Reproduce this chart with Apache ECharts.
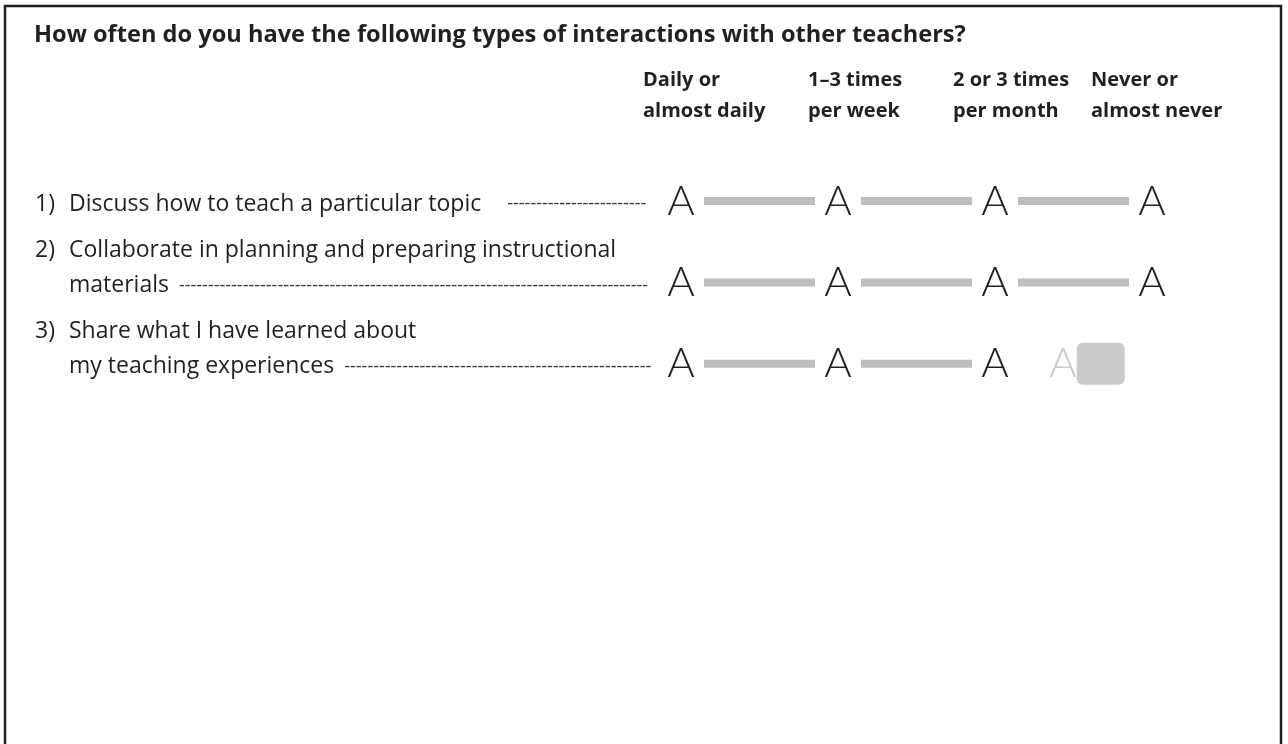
<!DOCTYPE html>
<html>
<head>
<meta charset="utf-8">
<title>Interactions with other teachers</title>
<script src="https://cdn.jsdelivr.net/npm/echarts@6/dist/echarts.min.js"></script>
<style>
  html, body { margin: 0; padding: 0; background: #fff; }
  #chart { width: 1288px; height: 744px; }
</style>
</head>
<body>
<div id="chart"></div>
<script>
const questionTitle = 'How often do you have the following types of interactions with other teachers?'
const frequencyLabels = ['Daily or\nalmost daily', '1–3 times\nper week', '2 or 3 times\nper month', 'Never or\nalmost never']
const itemNumbers = ['1)', '2)', '3)']
const itemLines = [
  ['Discuss how to teach a particular topic'],
  ['Collaborate in planning and preparing instructional', 'materials'],
  ['Share what I have learned about', 'my teaching experiences']
]
// bubbles printed for each item (index into frequencyLabels)
const itemBubbles = [
  [0, 1, 2, 3],
  [0, 1, 2, 3],
  [0, 1, 2]
]
// grey connector bars between bubbles
const itemConnected = [
  [0, 1, 2, 3],
  [0, 1, 2, 3],
  [0, 1, 2]
]
// last bubble of item 3 came out smudged in the print: [option, item]
const smudgedBubbles = [[3, 2]]

const ink = '#231f20'
const barGrey = '#bcbec0'
const textFont = '"Open Sans", "Noto Sans", sans-serif'
const bubbleFont = 'Lato, "Open Sans", sans-serif'
const itemFontSize = 23
const dashFontSize = 18
const numberWidth = 34
const labelX = 35
const gridLeft = 602.5
const leaderEnd = 652
// how far each header sits left of its column centre
const headerShift = [38, 30, 42, 61]

const measureCtx = document.createElement('canvas').getContext('2d')
const textWidth = (txt, font) => {
  measureCtx.font = font
  return measureCtx.measureText(txt).width
}

const buildItemLabel = (i) => {
  const lines = itemLines[i]
  const out = lines.map((line, k) => {
    const num = k === 0 ? itemNumbers[i] : ' '
    let s = `{n|${num}}{t|${line}}`
    if (k === lines.length - 1) {
      const end = labelX + numberWidth + textWidth(line, `${itemFontSize}px ${textFont}`)
      const gapKey = lines.length === 1 ? 'gw' : 'gn'
      const gap = lines.length === 1 ? 26 : 10
      const dashW = textWidth('-', `${dashFontSize}px ${textFont}`)
      const count = Math.max(0, Math.floor((leaderEnd - end - gap) / dashW))
      s += `{${gapKey}| }{d|${'-'.repeat(count)}}`
    }
    return s
  })
  // keep the leader line on the row centre for two-line items
  if (lines.length === 2) out.push('{t| }')
  return out.join('\n')
}

const headerRich = {}
headerShift.forEach((s, i) => {
  headerRich['h' + i] = {
    width: 2 * s, align: 'left', fontSize: 20, fontWeight: 'bold',
    lineHeight: 31, color: ink, fontFamily: textFont
  }
})

const chart = echarts.init(document.getElementById('chart'))

const option = {
  animation: false,
  backgroundColor: '#fff',
  title: {
    text: questionTitle,
    left: 34,
    top: 23,
    padding: 0,
    textStyle: { fontFamily: textFont, fontWeight: 'bold', fontSize: 23.6, color: ink }
  },
  graphic: [{
    type: 'rect',
    silent: true,
    shape: { x: 5, y: 6, width: 1276, height: 800 },
    style: { fill: 'none', stroke: ink, lineWidth: 2.5 }
  }],
  grid: { left: gridLeft, right: 57.5, top: 160.4, bottom: 339.6 },
  xAxis: {
    type: 'category',
    position: 'top',
    data: frequencyLabels,
    axisLine: { show: false },
    axisTick: { show: false },
    splitLine: { show: false },
    axisLabel: {
      interval: 0,
      margin: 34,
      formatter: (v, i) => v.split('\n').map(s => `{h${i}|${s}}`).join('\n'),
      rich: headerRich
    }
  },
  yAxis: {
    type: 'category',
    inverse: true,
    data: itemNumbers,
    axisLine: { show: false },
    axisTick: { show: false },
    splitLine: { show: false },
    axisLabel: {
      interval: 0,
      align: 'left',
      margin: gridLeft - labelX,
      padding: [6, 0, 0, 0],
      formatter: (v, i) => buildItemLabel(i),
      rich: {
        n: { width: numberWidth, fontSize: itemFontSize, lineHeight: 35, color: ink, fontFamily: textFont },
        t: { fontSize: itemFontSize, lineHeight: 35, color: ink, fontFamily: textFont },
        gw: { width: 26, fontSize: 10, lineHeight: 35 },
        gn: { width: 10, fontSize: 10, lineHeight: 35 },
        d: { fontSize: dashFontSize, lineHeight: 35, color: '#3a3738', fontFamily: textFont }
      }
    }
  },
  series: [
    ...itemConnected.map((opts, i) => ({
      type: 'line',
      data: opts.map(o => [o, i]),
      symbol: 'none',
      silent: true,
      z: 1,
      lineStyle: { width: 8, color: barGrey, cap: 'butt' }
    })),
    {
      type: 'scatter',
      z: 3,
      silent: true,
      data: itemBubbles.flatMap((opts, i) => opts.map(o => [o, i])),
      symbol: 'rect',
      symbolSize: [46, 44],
      itemStyle: { color: '#fff', opacity: 1 },
      label: {
        show: true,
        position: 'inside',
        formatter: 'A',
        fontFamily: bubbleFont,
        fontWeight: 300,
        fontSize: 42,
        color: ink
      }
    },
    {
      type: 'scatter',
      z: 3,
      silent: true,
      data: smudgedBubbles,
      symbolSize: 0,
      label: {
        show: true,
        position: 'inside',
        offset: [-65, 0],
        formatter: '{a|A}{b| }',
        rich: {
          a: { fontFamily: bubbleFont, fontWeight: 300, fontSize: 42, color: barGrey },
          b: { width: 48, height: 42, backgroundColor: barGrey, borderRadius: 6 }
        }
      }
    }
  ]
}

chart.setOption(option)
window.addEventListener('resize', () => chart.resize())
</script>
</body>
</html>
